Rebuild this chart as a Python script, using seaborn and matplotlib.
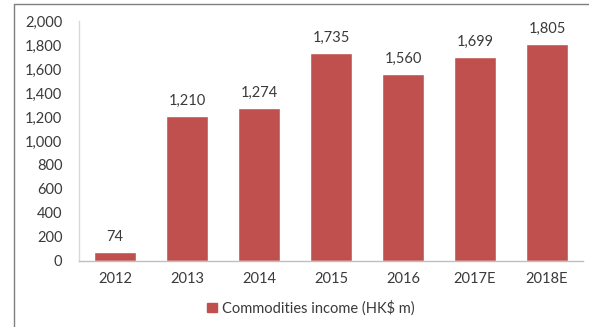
import matplotlib
matplotlib.use("Agg")
import matplotlib.pyplot as plt
import seaborn as sns
import pandas as pd
from matplotlib.lines import Line2D
from matplotlib.patches import Patch

years = ["2012", "2013", "2014", "2015", "2016", "2017E", "2018E"]
income = [74, 1210, 1274, 1735, 1560, 1699, 1805]
series_name = "Commodities income (HK$ m)"
y_ticks = [0, 200, 400, 600, 800, 1000, 1200, 1400, 1600, 1800, 2000]

sns.set_theme(style="white")
plt.rcParams["font.family"] = ["Lato", "DejaVu Sans"]

bar_color = "#C0504D"
text_color = "#3A3A3A"
fs = 10.5

df = pd.DataFrame({"year": years, "income": income})

fig = plt.figure(figsize=(5.89, 3.27), dpi=100)
ax = fig.add_axes([79/589, 1 - 261/327, (583-79)/589, (261-21)/327])

sns.barplot(data=df, x="year", y="income", color=bar_color, width=0.57,
            saturation=1, ax=ax)

ax.set_xlim(-0.5, 6.5)
ax.set_ylim(0, 2000)
ax.set_yticks(y_ticks)
ax.set_yticklabels([f"{v:,}" for v in y_ticks])
ax.set_xlabel("")
ax.set_ylabel("")
ax.tick_params(axis="y", length=0, pad=12, labelsize=fs, labelcolor=text_color)
ax.tick_params(axis="x", length=0, pad=8, labelsize=fs, labelcolor=text_color)

for s in ["top", "right"]:
    ax.spines[s].set_visible(False)
ax.spines["left"].set_color("#D9D9D9")
ax.spines["left"].set_linewidth(1)
ax.spines["bottom"].set_color("#BFBFBF")
ax.spines["bottom"].set_linewidth(1)

for c in ax.containers:
    ax.bar_label(c, labels=[f"{v:,}" for v in income], padding=6,
                 fontsize=fs, color=text_color)

leg_handle = Patch(facecolor=bar_color, edgecolor=bar_color)
fig.legend([leg_handle], [series_name], loc="center",
           bbox_to_anchor=(311/589, 1 - 308/327), frameon=False,
           fontsize=fs, handlelength=0.65, handleheight=0.65,
           handletextpad=0.4, labelcolor=text_color)

# outer frame of the original chart
fig.add_artist(Line2D([13.5/589, 13.5/589], [0, 1 - 4/327],
                      transform=fig.transFigure, color="#7F7F7F", lw=1))
fig.add_artist(Line2D([13.5/589, 1], [1 - 4/327, 1 - 4/327],
                      transform=fig.transFigure, color="#7F7F7F", lw=1))

fig.savefig("out.png", dpi=100)
